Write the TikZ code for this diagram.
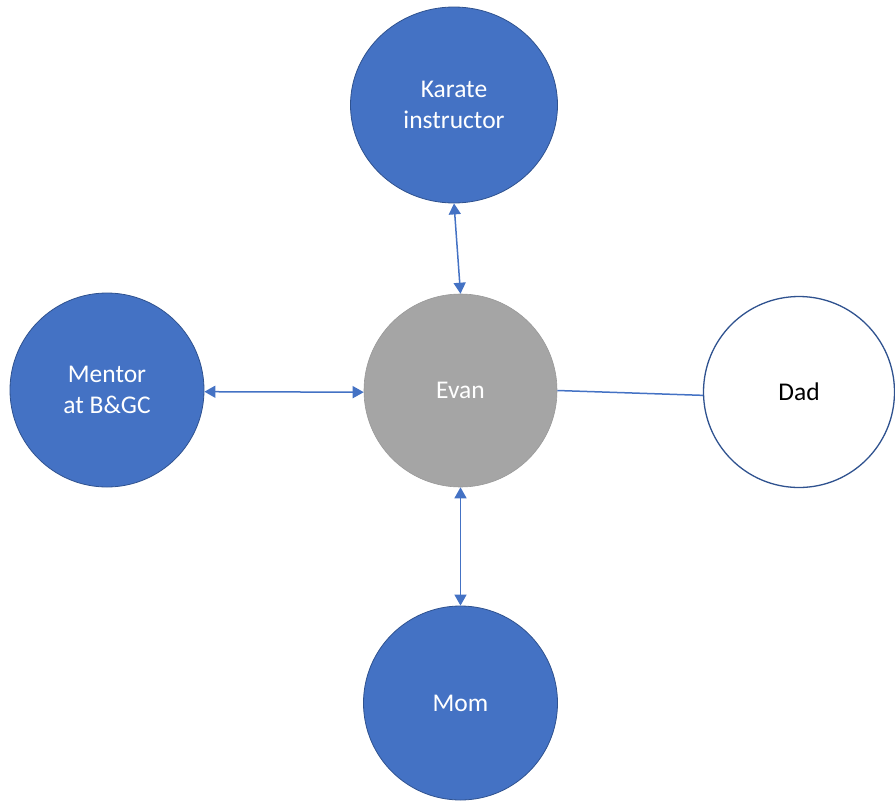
\documentclass[tikz,border=0pt]{standalone}
\usepackage{fontspec}
\setmainfont{Carlito}
\usetikzlibrary{shapes.geometric,arrows.meta}
\definecolor{officeblue}{HTML}{4472C4}
\definecolor{blueedge}{HTML}{2F528F}
\definecolor{evangray}{HTML}{A5A5A5}
\begin{document}
\begin{tikzpicture}[x=1pt,y=-1pt,
  person/.style={circle,inner sep=0pt,minimum size=194pt,align=center,
    font=\fontsize{25.5}{31.5}\selectfont},
  bluecircle/.style={person,fill=officeblue,draw=blueedge,line width=0.8pt,text=white},
  link/.style={draw=officeblue,line width=1.5pt},
  both/.style={link,{Triangle[length=11pt,width=12pt]}-{Triangle[length=11pt,width=12pt]}}]
\useasboundingbox (0,0) rectangle (895,801);
% people around Evan
\node[bluecircle,ellipse,minimum width=207pt,minimum height=196pt] (karate) at (454,105) {Karate\\instructor};
\node[bluecircle] (mentor) at (107,390) {Mentor\\at B\&GC};
\node[person,fill=evangray,draw=gray!80,line width=0.6pt,text=white,minimum size=193pt] (evan) at (460.5,390.5) {Evan};
\node[person,fill=white,draw=blueedge,line width=1.3pt,text=black,minimum size=191pt] (dad) at (799,392) {Dad};
\node[bluecircle] (mom) at (460.5,703) {Mom};
% relationships
\draw[both] (karate.south) -- (evan.north);
\draw[both] (mentor.-1) -- (evan.181);
\draw[both] (evan.south) -- (mom.north);
\draw[link] (evan.east) -- (dad.182);
\end{tikzpicture}
\end{document}
